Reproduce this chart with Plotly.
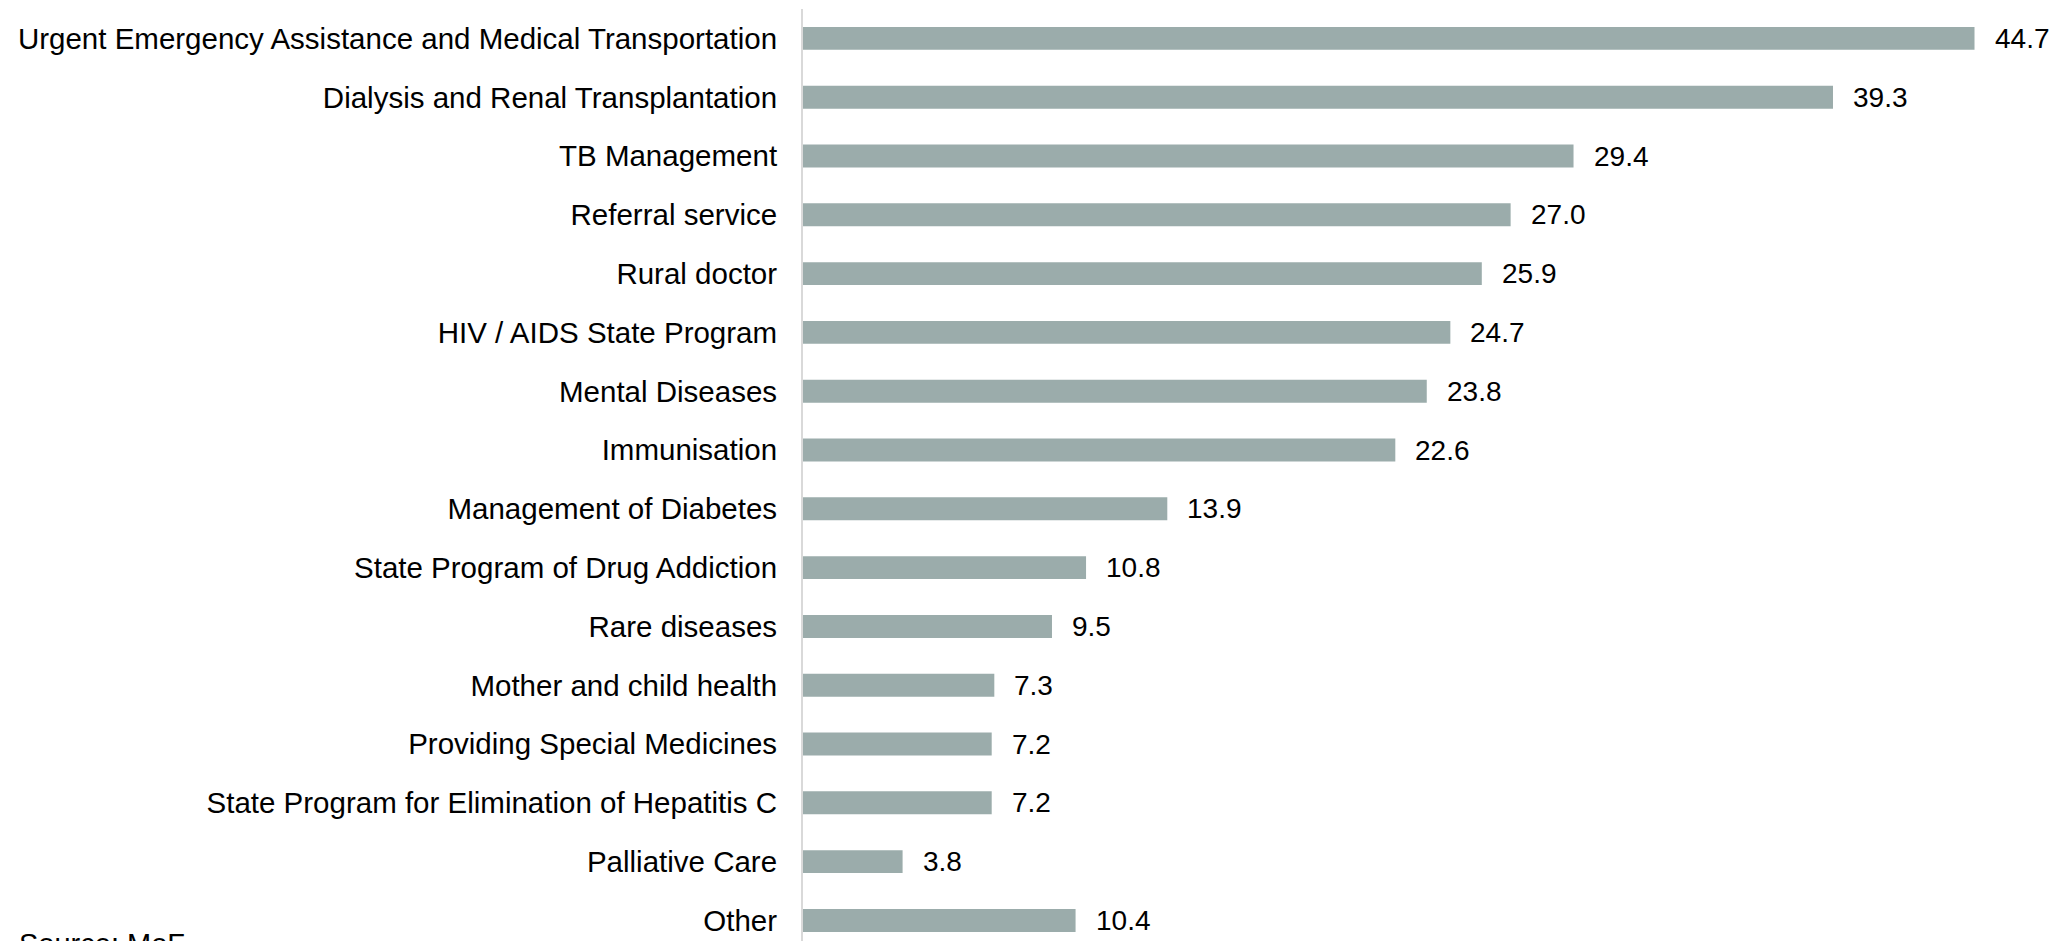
import plotly.graph_objects as go

programs = [
    "Urgent Emergency Assistance and Medical Transportation",
    "Dialysis and Renal Transplantation",
    "TB Management",
    "Referral service",
    "Rural doctor",
    "HIV / AIDS State Program",
    "Mental Diseases",
    "Immunisation",
    "Management of Diabetes",
    "State Program of Drug Addiction",
    "Rare diseases",
    "Mother and child health",
    "Providing Special Medicines",
    "State Program for Elimination of Hepatitis C",
    "Palliative Care",
    "Other",
]
spending = [44.7, 39.3, 29.4, 27.0, 25.9, 24.7, 23.8, 22.6,
            13.9, 10.8, 9.5, 7.3, 7.2, 7.2, 3.8, 10.4]
source_note = "Source: MoF"

FONT = "Liberation Sans, Arial, sans-serif"
BAR_COLOR = "#9BACAB"

fig = go.Figure(
    go.Bar(
        x=spending,
        y=programs,
        orientation="h",
        marker=dict(color=BAR_COLOR, line=dict(width=0)),
        hoverinfo="x+y",
    )
)

# value labels to the right of each bar
for name, val in zip(programs, spending):
    fig.add_annotation(
        x=val, y=name, xref="x", yref="y",
        text=f"{val:.1f}", showarrow=False,
        xanchor="left", yanchor="middle", xshift=18,
        font=dict(family=FONT, size=28, color="#000000"),
    )

fig.add_annotation(
    x=0, y=0, xref="paper", yref="paper",
    text=source_note, showarrow=False,
    xanchor="left", yanchor="top", xshift=-786, yshift=15,
    font=dict(family=FONT, size=29, color="#000000"),
)

fig.update_layout(
    width=2068, height=941,
    margin=dict(l=803, r=7, t=9, b=0, pad=0),
    plot_bgcolor="white", paper_bgcolor="white",
    bargap=0.61,
    showlegend=False,
    font=dict(family=FONT, size=29, color="#000000"),
)
fig.update_xaxes(
    range=[0, 48.0], visible=False, showgrid=False, zeroline=False,
)
fig.update_yaxes(
    categoryorder="array", categoryarray=programs,
    range=[15.35, -0.5],
    showline=True, linecolor="#D9D9D9", linewidth=2,
    showgrid=False, zeroline=False, ticks="",
    ticklabelstandoff=18,
    tickfont=dict(family=FONT, size=29.5, color="#000000"),
)

fig.write_html("out.html")
